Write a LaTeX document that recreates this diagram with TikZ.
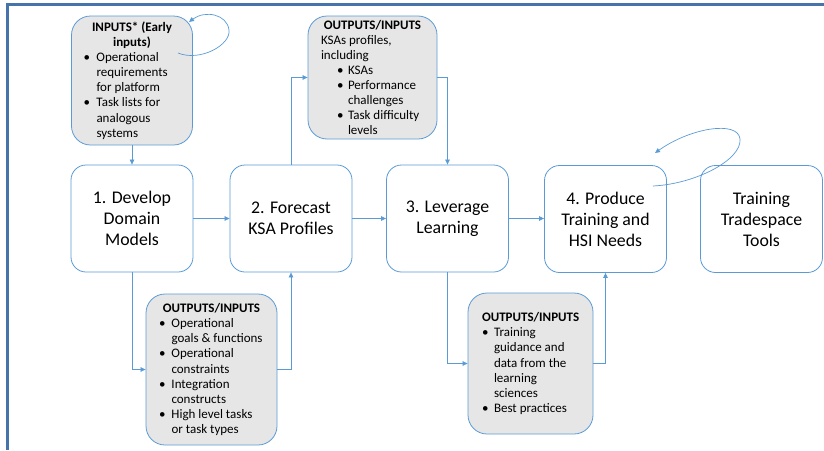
\documentclass[tikz,border=0pt]{standalone}
\usepackage{fontspec}
\setmainfont{Carlito}
\usetikzlibrary{arrows.meta}
\definecolor{lblue}{HTML}{5B9BD5}
\definecolor{gfill}{HTML}{E7E6E6}
\definecolor{frame}{HTML}{4673A9}
% bullet item: #1 left indent, #2 bullet width, #3 text (lines split by \newline)
\newcommand{\itm}[3][0pt]{\par\leftskip=#1\relax\hangindent=#2\relax\hangafter=1\relax\noindent\makebox[#2][l]{\textbullet}#3}
\tikzset{
  pbox/.style={draw=lblue, fill=white, rounded corners=15pt, line width=0.8pt, align=center,
    minimum width=122pt, minimum height=107pt, inner sep=0pt, font=\fontsize{17.8}{21}\selectfont},
  gbox/.style={draw=lblue, fill=gfill, rounded corners=19pt, line width=0.8pt, inner sep=0pt,
    font=\fontsize{13}{15.1}\selectfont},
  conn/.style={draw=lblue, line width=0.7pt, -{Triangle[length=5pt,width=4.5pt]}},
  framel/.style={draw=frame, line width=2.6pt}
}
\begin{document}
\begin{tikzpicture}[x=1pt,y=-1pt]
\useasboundingbox (0,0) rectangle (824,450);
\draw[framel] (824,4.7) -- (7.3,4.7) -- (7.3,450);

% process boxes
\node[pbox] (b1) at (132,218.5) {1. Develop\\Domain\\Models};
\node[pbox] (b2) at (291,218.5) {2. Forecast\\KSA Profiles};
\node[pbox] (b3) at (447.5,218.5) {3. Leverage\\Learning};
\node[pbox] (b4) at (605.5,219) {4. Produce\\Training and\\HSI Needs};
\node[pbox] (b5) at (761.5,219) {Training\\Tradespace\\Tools};

% gray boxes
\node[gbox, minimum width=121pt, minimum height=129pt] (in) at (132,80.5)
 {\parbox{97pt}{{\centering\bfseries INPUTS* (Early\\inputs)\par}\raggedright
  \itm{13pt}{Operational\newline requirements\newline for platform}
  \itm{13pt}{Task lists for\newline analogous\newline systems}\par}};

\node[gbox, minimum width=129pt, minimum height=123pt] (o1) at (372.5,77.5)
 {\parbox{103pt}{{\centering\bfseries OUTPUTS/INPUTS\par}
  \raggedright KSAs profiles,\newline including
  \itm[16pt]{11pt}{KSAs}
  \itm[16pt]{11pt}{Performance\newline challenges}
  \itm[16pt]{11pt}{Task difficulty\newline levels}\par}};

\node[gbox, minimum width=131pt, minimum height=151pt] (o2) at (211.5,369.5)
 {\parbox{105pt}{{\centering\bfseries OUTPUTS/INPUTS\par}\raggedright
  \itm{12.5pt}{Operational\newline goals \& functions}
  \itm{12.5pt}{Operational\newline constraints}
  \itm{12.5pt}{Integration\newline constructs}
  \itm{12.5pt}{High level tasks\newline or task types}\par}};

\node[gbox, minimum width=125pt, minimum height=141pt] (o3) at (530.5,363.5)
 {\parbox{97pt}{{\centering\bfseries OUTPUTS/INPUTS\par}\raggedright
  \itm{12pt}{Training\newline guidance and\newline data from the\newline learning\newline sciences}
  \itm{12pt}{Best practices}\par}};

% connectors
\draw[conn] (in.south) -- (b1.north);
\draw[conn] (b1.east) -- (b2.west);
\draw[conn] (b2.east) -- (b3.west);
\draw[conn] (b3.east) -- (b4.west |- b3.east);
\draw[conn] (b2.north) |- (o1.west);
\draw[conn] (o1.east) -| (b3.north);
\draw[conn] (b1.south) |- (o2.west);
\draw[conn] (o2.east) -| (b2.south);
\draw[conn] (b3.south) |- (o3.west);
\draw[conn] (o3.east) -| (b4.south);

% self loops
\coordinate (l1s) at (178,53);
\coordinate (l1e) at (189,22);
\draw[conn] (l1s) .. controls (200,62) and (231,45) .. (229,30)
  .. controls (227,14) and (205,10) .. (l1e);
\coordinate (l2s) at (653,186);
\coordinate (l2e) at (655,153);
\draw[conn] (l2s) .. controls (695,184) and (742,160) .. (740,139)
  .. controls (738,120) and (690,128) .. (l2e);
\end{tikzpicture}
\end{document}
